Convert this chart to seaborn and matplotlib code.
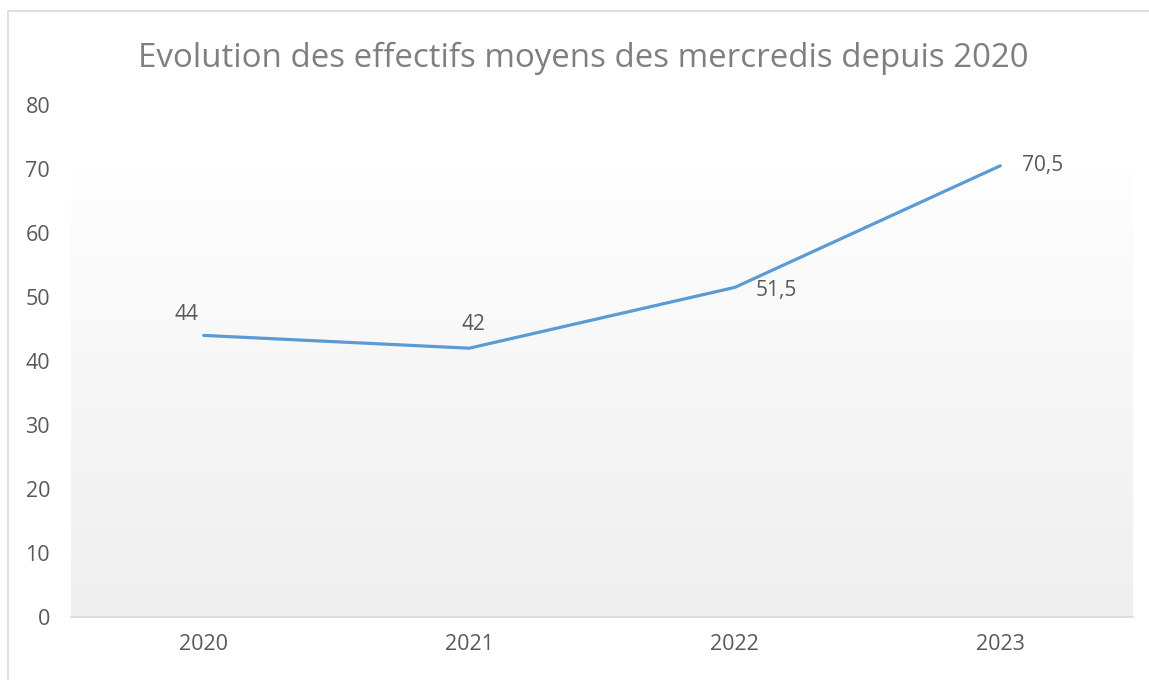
import numpy as np
import pandas as pd
import matplotlib
matplotlib.use('Agg')
import matplotlib.pyplot as plt
import seaborn as sns
from matplotlib.patches import Rectangle

# données
annees = ['2020', '2021', '2022', '2023']
effectifs = [44, 42, 51.5, 70.5]
titre = 'Evolution des effectifs moyens des mercredis depuis 2020'

df = pd.DataFrame({'annee': annees, 'effectif': effectifs})

sns.set_style('white')
plt.rcParams['font.family'] = ['Open Sans', 'DejaVu Sans']
gris = '#595959'

fig = plt.figure(figsize=(11.49, 6.8), dpi=100)
ax = fig.add_axes([71/1149, 63/680, (1133-71)/1149, (617-105)/680])

# fond dégradé de la zone de tracé
grad = np.linspace(0, 1, 256).reshape(-1, 1)
ax.imshow(grad, extent=(-0.5, 3.5, 0, 70), aspect='auto', origin='upper',
          cmap=matplotlib.colors.LinearSegmentedColormap.from_list('g', ['#fefefe', '#efefef']),
          zorder=0)

sns.lineplot(data=df, x='annee', y='effectif', ax=ax, color='#5B9BD5',
             linewidth=2.3, zorder=3)

ax.set_xlim(-0.5, 3.5)
ax.set_ylim(0, 80)
ax.set_yticks(range(0, 81, 10))
ax.set_xlabel('')
ax.set_ylabel('')
for s in ['top', 'right', 'left']:
    ax.spines[s].set_visible(False)
ax.spines['bottom'].set_color('#d9d9d9')
ax.spines['bottom'].set_linewidth(1.2)
ax.tick_params(axis='both', length=0, labelsize=15.5, colors=gris)
ax.tick_params(axis='x', pad=12)
ax.tick_params(axis='y', pad=15)

# étiquettes de données
decal = [(-12.6, 14.8, 'center'), (2.9, 16.9, 'center'),
         (15, -2.5, 'left'), (15.8, 0, 'left')]
for i, v in enumerate(effectifs):
    txt = f'{v:g}'.replace('.', ',')
    dx, dy, ha = decal[i]
    ax.annotate(txt, (i, v), xytext=(dx, dy), textcoords='offset points',
                ha=ha, va='center', fontsize=15, color=gris)

fig.text(0.508, 1 - 58/680, titre, ha='center', va='center', fontsize=23.8, color='#7f7f7f')

# cadre du graphique
fig.patches.append(Rectangle((8/1149, -0.01), 1.1, 1 - 11/680 + 0.01,
                             transform=fig.transFigure, fill=False,
                             edgecolor='#d9d9d9', linewidth=1.2))

fig.savefig('out.png', dpi=100, facecolor='white')
